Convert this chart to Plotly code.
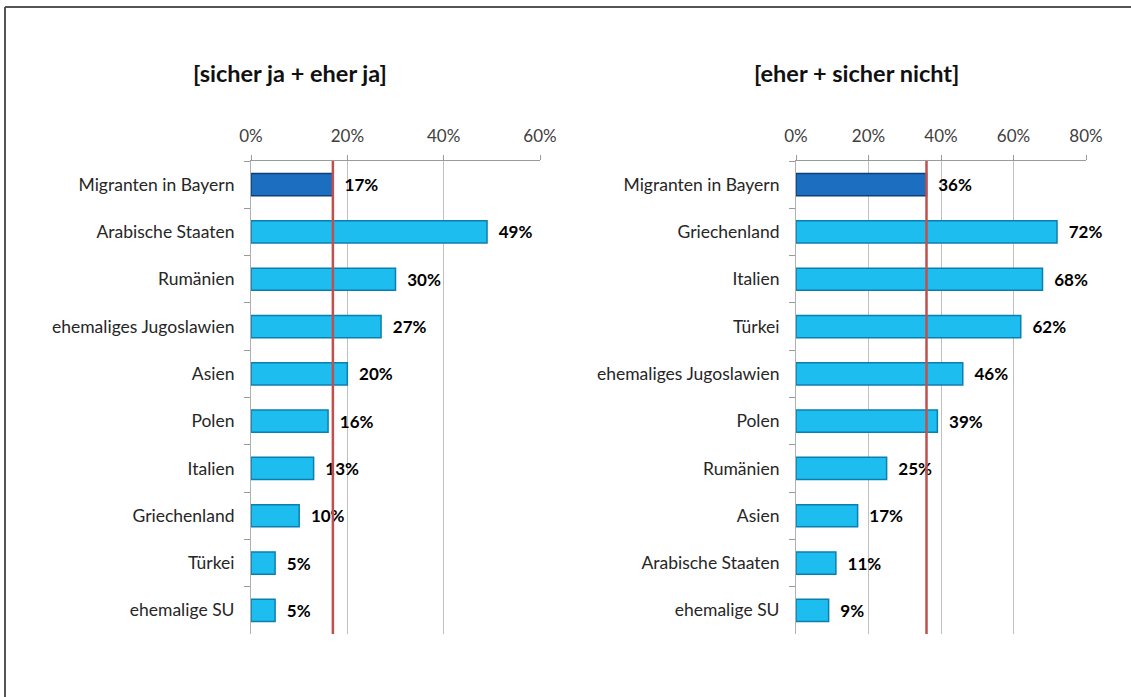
import plotly.graph_objects as go

W, H = 1131, 697

left_title = "[sicher ja + eher ja]"
left_cats = ["Migranten in Bayern", "Arabische Staaten", "Rumänien", "ehemaliges Jugoslawien",
             "Asien", "Polen", "Italien", "Griechenland", "Türkei", "ehemalige SU"]
left_vals = [17, 49, 30, 27, 20, 16, 13, 10, 5, 5]
left_ticks = [0, 20, 40, 60]

right_title = "[eher + sicher nicht]"
right_cats = ["Migranten in Bayern", "Griechenland", "Italien", "Türkei", "ehemaliges Jugoslawien",
              "Polen", "Rumänien", "Asien", "Arabische Staaten", "ehemalige SU"]
right_vals = [36, 72, 68, 62, 46, 39, 25, 17, 11, 9]
right_ticks = [0, 20, 40, 60, 80]

CYAN = "#1DBDF0"
CYAN_LINE = "#0B7FAE"
DARK = "#1C6FC0"
DARK_LINE = "#0B3F78"
FONT = "Lato"

fig = go.Figure()


def add_panel(cats, vals, xa, ya):
    colors = [DARK] + [CYAN] * (len(vals) - 1)
    lines = [DARK_LINE] + [CYAN_LINE] * (len(vals) - 1)
    fig.add_trace(go.Bar(
        x=vals, y=cats, orientation="h",
        xaxis=xa, yaxis=ya,
        marker=dict(color=colors, line=dict(color=lines, width=1.5)),
        width=0.47,
        text=[f"{v}%" for v in vals],
        texttemplate="  <b>%{text}</b>",
        textposition="outside",
        textfont=dict(family=FONT, size=17, color="#000000"),
        cliponaxis=False,
        showlegend=False,
        hoverinfo="skip",
    ))


add_panel(left_cats, left_vals, "x", "y")
add_panel(right_cats, right_vals, "x2", "y2")

ydom = [1 - 634 / H, 1 - 161 / H]

xcommon = dict(
    side="top", showgrid=True, gridcolor="#C0C0C0", gridwidth=1,
    showline=True, linecolor="#9A9A9A", linewidth=1,
    ticks="outside", ticklen=5, tickcolor="#9A9A9A",
    zeroline=False, automargin=False,
    tickfont=dict(family=FONT, size=17, color="#404040"),
    ticklabelstandoff=6, fixedrange=True,
)
ycommon = dict(
    autorange="reversed", showline=True, linecolor="#B0B0B0", linewidth=1,
    ticks="outside", ticklen=6, tickcolor="#9A9A9A", tickson="boundaries",
    showgrid=False, tickfont=dict(family=FONT, size=17.5, color="#262626"),
    ticklabelstandoff=12, fixedrange=True, automargin=False,
)

fig.update_layout(
    width=W, height=H, autosize=False,
    margin=dict(l=0, r=0, t=0, b=0, autoexpand=False),
    paper_bgcolor="white", plot_bgcolor="white",
    bargap=0.53,
    xaxis=dict(domain=[251 / W, 540 / W], range=[0, 60], tickvals=left_ticks,
               ticktext=[f"{t}%" for t in left_ticks], anchor="y", **xcommon),
    yaxis=dict(domain=ydom, anchor="x", **ycommon),
    xaxis2=dict(domain=[796 / W, 1086 / W], range=[0, 80], tickvals=right_ticks,
                ticktext=[f"{t}%" for t in right_ticks], anchor="y2", **xcommon),
    yaxis2=dict(domain=ydom, anchor="x2", **ycommon),
    annotations=[
        dict(text=f"<b>{left_title}</b>", x=290 / W, y=1 - 73 / H, xref="paper", yref="paper",
             xanchor="center", yanchor="middle",
             showarrow=False, font=dict(family=FONT, size=23.5, color="#111111")),
        dict(text=f"<b>{right_title}</b>", x=857 / W, y=1 - 73 / H, xref="paper", yref="paper",
             xanchor="center", yanchor="middle",
             showarrow=False, font=dict(family=FONT, size=23.5, color="#111111")),
    ],
    shapes=[
        # reference lines at the "Migranten in Bayern" value
        dict(type="line", xref="x", yref="y domain", x0=left_vals[0], x1=left_vals[0], y0=0, y1=1,
             line=dict(color="#C0504D", width=2.5), layer="above"),
        dict(type="line", xref="x2", yref="y2 domain", x0=right_vals[0], x1=right_vals[0], y0=0, y1=1,
             line=dict(color="#C0504D", width=2.5), layer="above"),
        # outer frame (top and left)
        dict(type="line", xref="paper", yref="paper", x0=5 / W, x1=1, y0=1 - 7 / H, y1=1 - 7 / H,
             line=dict(color="#555555", width=2)),
        dict(type="line", xref="paper", yref="paper", x0=5 / W, x1=5 / W, y0=0, y1=1 - 7 / H,
             line=dict(color="#555555", width=2)),
    ],
)

fig.write_html("out.html", config={"displayModeBar": False},
               post_script="document.body.style.margin='0';")
